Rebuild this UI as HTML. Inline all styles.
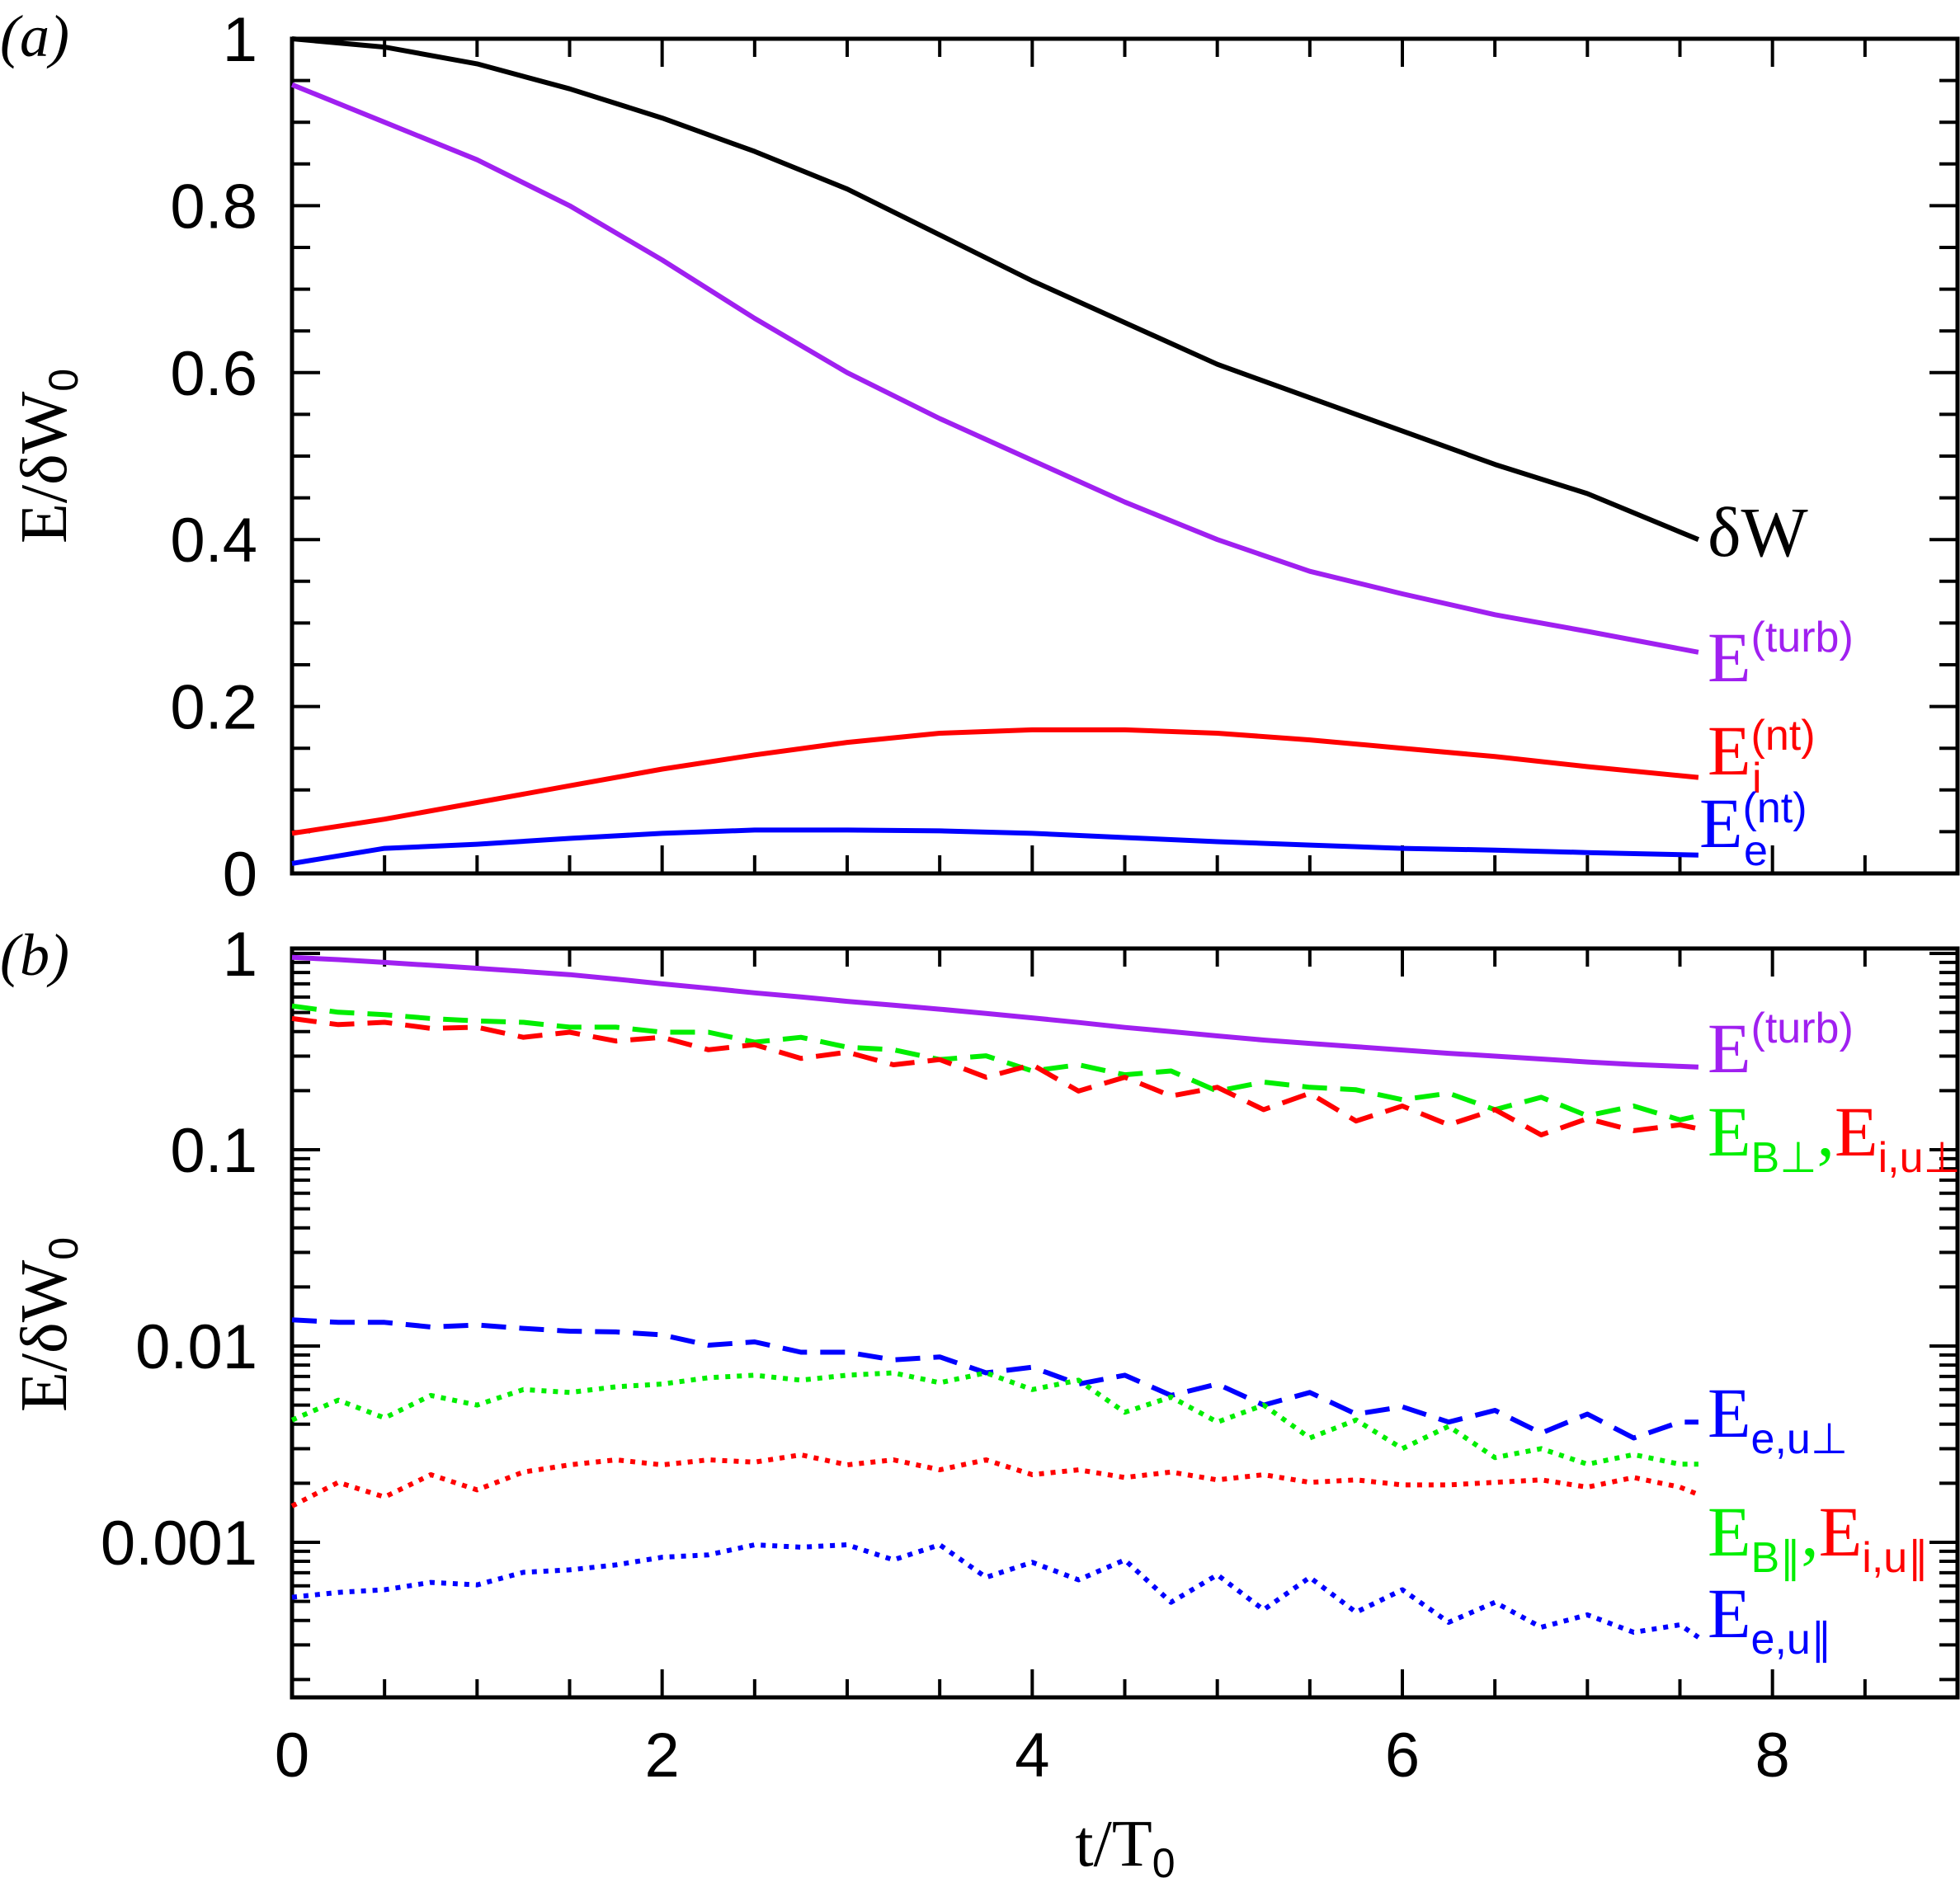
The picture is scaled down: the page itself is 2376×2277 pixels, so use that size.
<!DOCTYPE html>
<html><head><meta charset="utf-8">
<style>
html,body{margin:0;padding:0;background:#fff;}
svg{display:block;}
.tick{font-family:"Liberation Sans",sans-serif;font-size:76px;fill:#000;}
.lab{font-family:"Liberation Serif",serif;font-size:86px;}
.sup{font-family:"Liberation Sans",sans-serif;font-size:52px;}
</style></head>
<body>
<svg id="chart" width="2376" height="2277" viewBox="0 0 2376 2277" xmlns="http://www.w3.org/2000/svg">
<g id="axes"></g>
<g id="series"></g>
<g id="labels">
<text x="0" y="68" font-family="Liberation Serif,serif" font-style="italic" font-size="72">(a)</text>
<text x="0" y="1182" font-family="Liberation Serif,serif" font-style="italic" font-size="72">(b)</text>
<text transform="translate(80,553) rotate(-90)" text-anchor="middle" font-family="Liberation Serif,serif" font-size="80">E/δW<tspan font-family="Liberation Sans,sans-serif" font-size="50" dy="14">0</tspan></text>
<text transform="translate(80,1606) rotate(-90)" text-anchor="middle" font-family="Liberation Serif,serif" font-size="80">E/δW<tspan font-family="Liberation Sans,sans-serif" font-size="50" dy="14">0</tspan></text>
<text x="1364" y="2262" text-anchor="middle" font-family="Liberation Serif,serif" font-size="80">t/T<tspan font-family="Liberation Sans,sans-serif" font-size="50" dy="14">0</tspan></text>

<text class="lab" x="2070" y="674" fill="#000">δW</text>
<text class="lab" x="2070" y="826" fill="#a020f0">E<tspan class="sup" dy="-36">(turb)</tspan></text>
<text class="lab" x="2070" y="939" fill="#ff0000">E<tspan class="sup" dy="-30">(nt)</tspan><tspan class="sup" x="2124" dy="52">i</tspan></text>
<text class="lab" x="2060" y="1027" fill="#0000ff">E<tspan class="sup" dy="-30">(nt)</tspan><tspan class="sup" x="2114" dy="52">e</tspan></text>
<text class="lab" x="2070" y="1300" fill="#a020f0">E<tspan class="sup" dy="-36">(turb)</tspan></text>
<text class="lab" x="2070" y="1401"><tspan fill="#00ee00">E</tspan><tspan class="sup" fill="#00ee00" dy="20">B⊥</tspan><tspan fill="#00ee00" dy="-20">,</tspan><tspan fill="#ff0000">E</tspan><tspan class="sup" fill="#ff0000" dy="20">i,u⊥</tspan></text>
<text class="lab" x="2070" y="1742" fill="#0000ff">E<tspan class="sup" dy="20">e,u⊥</tspan></text>
<text class="lab" x="2070" y="1886"><tspan fill="#00ee00">E</tspan><tspan class="sup" fill="#00ee00" dy="20">B∥</tspan><tspan fill="#00ee00" dy="-20">,</tspan><tspan fill="#ff0000">E</tspan><tspan class="sup" fill="#ff0000" dy="20">i,u∥</tspan></text>
<text class="lab" x="2070" y="1985" fill="#0000ff">E<tspan class="sup" dy="20">e,u∥</tspan></text>
</g>
</svg>
<script>
// panel a data
const tA = [0,0.5,1,1.5,2,2.5,3,3.5,4,4.5,5,5.5,6,6.5,7,7.6];
const dW = [1.0,0.99,0.97,0.94,0.905,0.865,0.82,0.765,0.71,0.66,0.61,0.57,0.53,0.49,0.455,0.40];
const eTurb = [0.945,0.9,0.855,0.8,0.735,0.665,0.6,0.545,0.495,0.445,0.4,0.362,0.335,0.31,0.29,0.265];
const eINt = [0.048,0.065,0.085,0.105,0.125,0.142,0.157,0.168,0.172,0.172,0.168,0.16,0.15,0.14,0.128,0.115];
const eENt = [0.012,0.03,0.035,0.042,0.048,0.052,0.052,0.051,0.048,0.043,0.038,0.034,0.03,0.028,0.025,0.022];
// panel b data
const tB = [0,0.25,0.5,0.75,1,1.25,1.5,1.75,2,2.25,2.5,2.75,3,3.25,3.5,3.75,4,4.25,4.5,4.75,5,5.25,5.5,5.75,6,6.25,6.5,6.75,7,7.25,7.5,7.6];
const eBperp = [0.540,0.502,0.488,0.466,0.453,0.446,0.421,0.421,0.397,0.397,0.353,0.374,0.333,0.323,0.288,0.301,0.252,0.271,0.241,0.252,0.199,0.221,0.208,0.202,0.180,0.194,0.160,0.185,0.149,0.167,0.142,0.149];
const eIperp = [0.466,0.434,0.446,0.415,0.421,0.374,0.397,0.358,0.374,0.323,0.343,0.292,0.314,0.271,0.288,0.234,0.271,0.199,0.234,0.188,0.208,0.160,0.194,0.140,0.167,0.134,0.160,0.119,0.144,0.125,0.134,0.128];
const eEperp = [0.0136,0.0132,0.0132,0.0125,0.0128,0.0123,0.0119,0.0118,0.0114,0.0101,0.0105,0.0093,0.0093,0.0085,0.0088,0.0073,0.0078,0.0064,0.0071,0.0056,0.0064,0.0050,0.0058,0.0045,0.0049,0.0041,0.0047,0.0036,0.0045,0.0034,0.0041,0.0041];
const eBpar = [0.0042,0.0053,0.0043,0.0056,0.0050,0.0060,0.0058,0.0062,0.0064,0.0069,0.0071,0.0067,0.0071,0.0073,0.0065,0.0073,0.0060,0.0067,0.0046,0.0055,0.0041,0.0050,0.0034,0.0042,0.0030,0.0039,0.0027,0.0030,0.0025,0.0028,0.0025,0.0025];
const eIpar = [0.00153,0.00202,0.00170,0.00221,0.00185,0.00228,0.00248,0.00263,0.00248,0.00263,0.00256,0.00279,0.00248,0.00263,0.00234,0.00263,0.00221,0.00234,0.00214,0.00228,0.00208,0.00221,0.00202,0.00208,0.00196,0.00196,0.00202,0.00208,0.00191,0.00214,0.00191,0.00175];
const eEpar = [0.000525,0.000556,0.000573,0.000625,0.000607,0.000703,0.000724,0.000767,0.000839,0.000863,0.000971,0.000944,0.000971,0.000814,0.000971,0.000663,0.000791,0.000644,0.000814,0.000495,0.000683,0.000453,0.000663,0.000440,0.000573,0.000391,0.000495,0.000369,0.000427,0.000348,0.000380,0.000328];
const eTurbB = [0.955,0.93,0.9,0.87,0.84,0.81,0.78,0.74,0.70,0.665,0.63,0.6,0.57,0.545,0.52,0.495,0.47,0.445,0.42,0.4,0.38,0.362,0.348,0.335,0.322,0.31,0.3,0.29,0.28,0.272,0.266,0.264];
const xTicks = [0,2,4,6,8];
const yTicksA = [0,0.2,0.4,0.6,0.8,1];
const yTickLabelsA = ["0","0.2","0.4","0.6","0.8","1"];
const yTicksB = [0.001,0.01,0.1,1];
const yTickLabelsB = ["0.001","0.01","0.1","1"];

const NS="http://www.w3.org/2000/svg";
const X0=354,X1=2373;
const A={top:47,bot:1059}, B={top:1150,bot:2058};
const logMax=Math.log10(1.06), logMin=-3.79;
function xs(t){return X0+(t/9)*(X1-X0);}
function ya(v){return A.bot-v*(A.bot-A.top);}
function yb(v){return B.top+(logMax-Math.log10(v))/(logMax-logMin)*(B.bot-B.top);}
const axes=document.getElementById('axes'), ser=document.getElementById('series');
function line(g,x1,y1,x2,y2,w){const l=document.createElementNS(NS,'line');l.setAttribute('x1',x1);l.setAttribute('y1',y1);l.setAttribute('x2',x2);l.setAttribute('y2',y2);l.setAttribute('stroke','#000');l.setAttribute('stroke-width',w);


g.appendChild(l);}
function txt(x,y,s,anchor,name){const t=document.createElementNS(NS,'text');t.setAttribute('x',x);t.setAttribute('y',y);t.setAttribute('text-anchor',anchor);t.setAttribute('class','tick');t.textContent=s;


axes.appendChild(t);}
[A,B].forEach((P,i)=>{
  const r=document.createElementNS(NS,'rect');r.setAttribute('x',X0);r.setAttribute('y',P.top);r.setAttribute('width',X1-X0);r.setAttribute('height',P.bot-P.top);r.setAttribute('fill','none');r.setAttribute('stroke','#000');r.setAttribute('stroke-width',5);
  
  
  axes.appendChild(r);
  for(let k=0;k<=18;k++){const t=k*0.5;const L=(k%4==0)?34:22;const x=xs(t);
    line(axes,x,P.bot,x,P.bot-L,4);line(axes,x,P.top,x,P.top+L,4);}
});
for(let k=0;k<=20;k++){const v=k*0.05;const L=(k%4==0)?34:22;const y=ya(v);line(axes,X0,y,X0+L,y,4);line(axes,X1,y,X1-L,y,4);}
for(let e=-4;e<=0;e++){for(let m=1;m<=9;m++){const v=m*Math.pow(10,e);if(Math.log10(v)<logMin||Math.log10(v)>logMax)continue;const L=m==1?34:22;const y=yb(v);line(axes,X0,y,X0+L,y,4);line(axes,X1,y,X1-L,y,4);}}
yTicksA.forEach((v,i)=>txt(312,ya(v)+27,yTickLabelsA[i],'end','y-tick-label-a'));
yTicksB.forEach((v,i)=>txt(312,yb(v)+27,yTickLabelsB[i],'end','y-tick-label-b'));
xTicks.forEach(t=>txt(xs(t),2154,String(t),'middle','x-tick-label'));
function path(ts,vs,yf,color,dash,name){const p=document.createElementNS(NS,'path');
  p.setAttribute('d',ts.map((t,i)=>(i?'L':'M')+xs(t).toFixed(1)+','+yf(vs[i]).toFixed(1)).join(''));
  p.setAttribute('fill','none');p.setAttribute('stroke',color);p.setAttribute('stroke-width',6);p.setAttribute('stroke-linejoin','round');
  if(dash)p.setAttribute('stroke-dasharray',dash);
  
  
  ser.appendChild(p);}
path(tA,dW,ya,'#000',null,'line-dw');
path(tA,eTurb,ya,'#a020f0',null,'line-eturb-a');
path(tA,eINt,ya,'#ff0000',null,'line-ei-nt');
path(tA,eENt,ya,'#0000ff',null,'line-ee-nt');
path(tB,eTurbB,yb,'#a020f0',null,'line-eturb-b');
path(tB,eBperp,yb,'#00ee00','30 16','line-eb-perp');
path(tB,eIperp,yb,'#ff0000','30 16','line-ei-perp');
path(tB,eEperp,yb,'#0000ff','30 16','line-ee-perp');
path(tB,eBpar,yb,'#00ee00','6 8','line-eb-par');
path(tB,eIpar,yb,'#ff0000','6 8','line-ei-par');
path(tB,eEpar,yb,'#0000ff','6 8','line-ee-par');
</script>
</body></html>
